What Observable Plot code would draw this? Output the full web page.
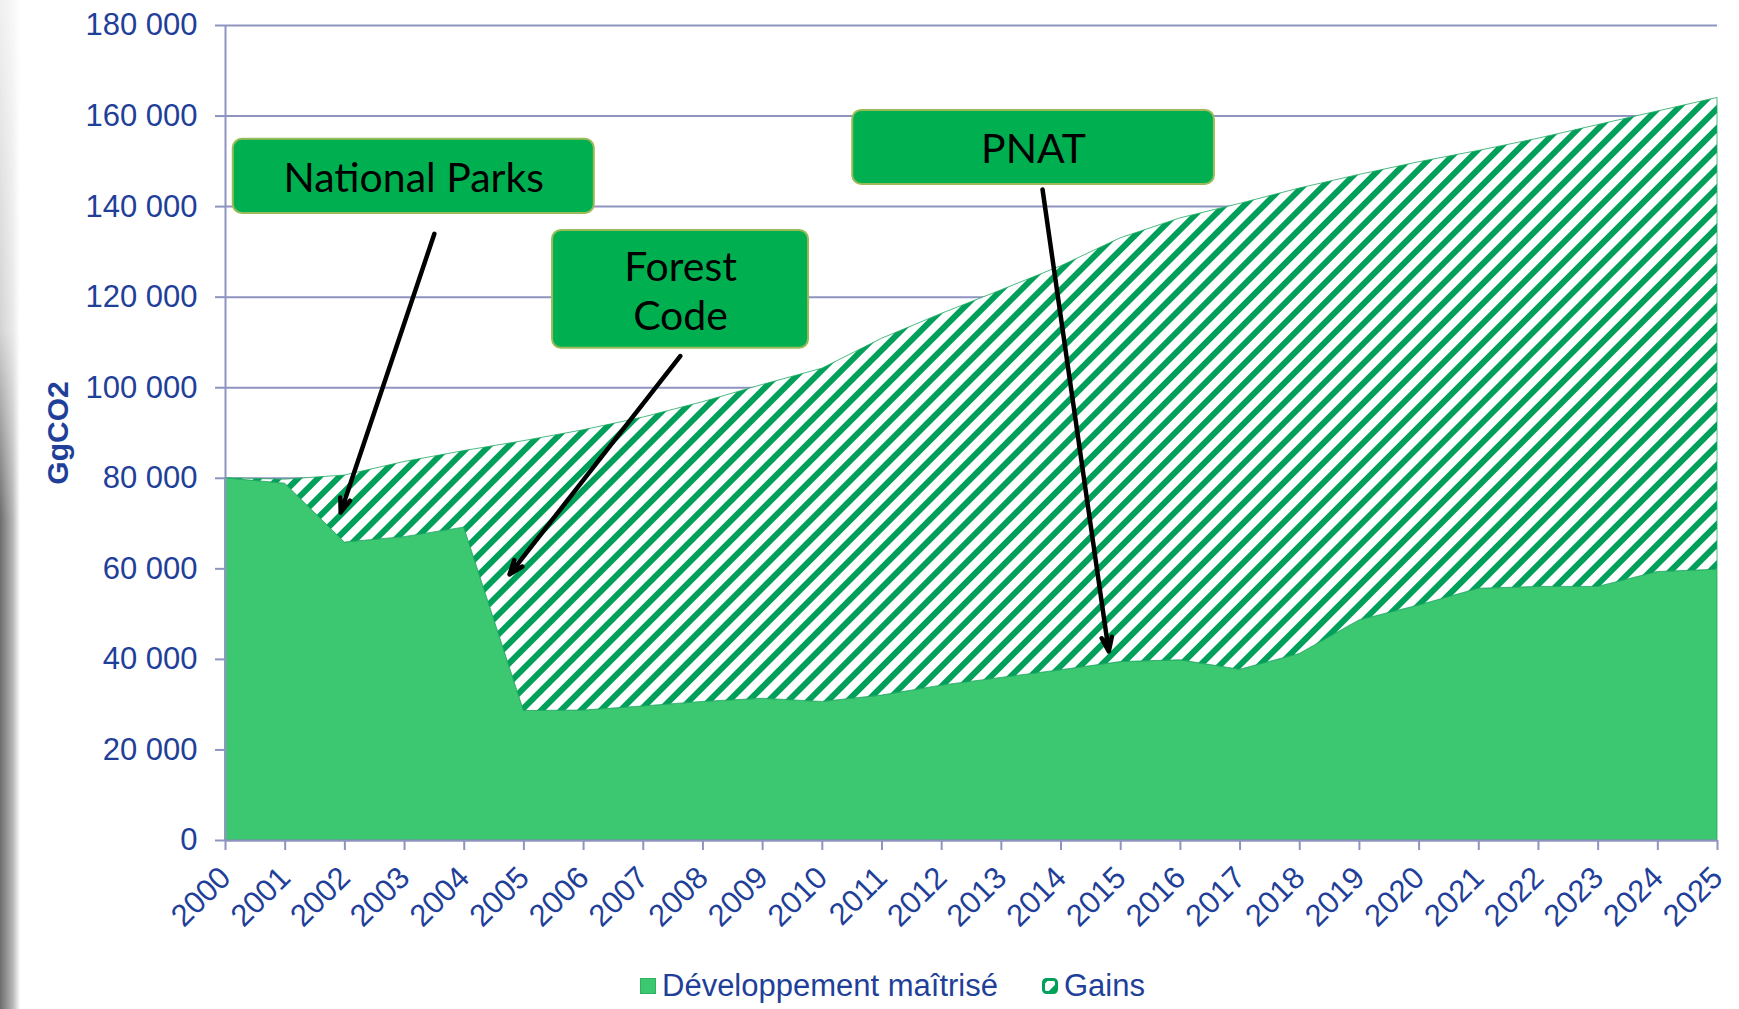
<!DOCTYPE html>
<html>
<head>
<meta charset="utf-8">
<script src="https://cdn.jsdelivr.net/npm/d3@7"></script>
<script src="https://cdn.jsdelivr.net/npm/@observablehq/plot@0.6"></script>
<style>
  html, body { margin: 0; padding: 0; background: #fff; }
  body { width: 1739px; height: 1009px; overflow: hidden; position: relative; font-family: "Liberation Sans", Arial, sans-serif; }
  #strip { position: absolute; left: 0; top: 0; width: 20px; height: 1009px;
    background: linear-gradient(to right, rgba(100,100,100,0.95), rgba(160,160,160,0.75) 65%, rgba(255,255,255,0));
    -webkit-mask-image: linear-gradient(to bottom, rgba(0,0,0,0.1) 0, rgba(0,0,0,0.3) 330px, rgba(0,0,0,1) 520px);
    mask-image: linear-gradient(to bottom, rgba(0,0,0,0.1) 0, rgba(0,0,0,0.3) 330px, rgba(0,0,0,1) 520px); }
  #chart svg { display: block; }
  #legend { position: relative; height: 47px; display: flex; align-items: center; padding-left: 640px; font-size: 31px; color: #1f3f99; }
  .item { display: flex; align-items: center; }
  .item.first { margin-right: 44px; }
  .sw { width: 16px; height: 16px; margin-right: 6px; box-sizing: border-box; flex: none; }
</style>
</head>
<body>
<div id="strip"></div>
<div id="chart"></div>
<div id="legend">
  <div class="item first"><div class="sw" style="background:#3cc870;border:1px solid #2fb060"></div><span>Développement maîtrisé</span></div>
  <div class="item"><svg class="sw" width="16" height="16" viewBox="0 0 16 16"><rect x="1.5" y="1.5" width="13" height="13" rx="3" fill="url(#hatch)" stroke="#00a05a" stroke-width="3"/></svg><span>Gains</span></div>
</div>
<script>
const years = [2000, 2001, 2002, 2003, 2004, 2005, 2006, 2007, 2008, 2009, 2010, 2011, 2012,
  2013, 2014, 2015, 2016, 2017, 2018, 2019, 2020, 2021, 2022, 2023, 2024, 2025];
const developpement = [80000, 78800, 65800, 67000, 69100, 28600, 28700, 29600, 30600, 31300, 30600, 32000, 34200,
  35900, 37600, 39400, 39800, 37700, 41200, 48600, 51900, 55600, 56000, 56000, 59300, 59800];
const gains = [0, 900, 14800, 16600, 16900, 59600, 61900, 63800, 66200, 69300, 73600, 78800, 82100,
  85600, 89200, 93600, 97600, 102900, 102800, 98400, 97900, 96700, 99000, 102000, 101700, 104200];
const seriesNames = ["Développement maîtrisé", "Gains"];
const yTicks = [0, 20000, 40000, 60000, 80000, 100000, 120000, 140000, 160000, 180000];
const yLabel = "GgCO2";

// annotations (data coordinates)
const boxLabels = ["National Parks", "Forest\nCode", "PNAT"];
const boxX1 = [2000.13, 2005.48, 2010.51];
const boxX2 = [2006.18, 2009.77, 2016.57];
const boxY1 = [138500, 108700, 144900];
const boxY2 = [154850, 134750, 161250];
const arrowFromX = [2003.50, 2007.62, 2013.69];
const arrowFromY = [134000, 107000, 143800];
const arrowToX = [2001.93, 2004.76, 2014.80];
const arrowToY = [72450, 58760, 41750];

const rows = [];
seriesNames.forEach((s, k) => {
  const vals = k === 0 ? developpement : gains;
  years.forEach((y, i) => rows.push({year: y, series: s, value: vals[i]}));
});
const boxes = boxLabels.map((label, i) => ({
  label, x1: boxX1[i], x2: boxX2[i], y1: boxY1[i], y2: boxY2[i],
  tx: (boxX1[i] + boxX2[i]) / 2, ty: (boxY1[i] + boxY2[i]) / 2,
  ax1: arrowFromX[i], ay1: arrowFromY[i], ax2: arrowToX[i], ay2: arrowToY[i]
}));

const axisColor = "#8f93c0";
const textColor = "#1f3f99";
const fmt = d => d3.format(",")(d).replace(/,/g, " ");

const chart = Plot.plot({
  width: 1739,
  height: 962,
  marginLeft: 225,
  marginRight: 22,
  marginTop: 25,
  marginBottom: 122,
  style: {fontFamily: "'Liberation Sans', Arial, sans-serif", background: "transparent"},
  x: {domain: [2000, 2025], label: null},
  y: {domain: [0, 180000], label: null},
  color: {domain: seriesNames, range: ["#3cc870", "url(#hatch)"]},
  marks: [
    Plot.gridY(yTicks, {stroke: axisColor, strokeOpacity: 1, strokeWidth: 2}),
    Plot.areaY(rows, Plot.stackY({x: "year", y: "value", z: "series", fill: "series", stroke: "#1fa862", strokeWidth: 0.8})),
    Plot.ruleX([2000], {stroke: axisColor, strokeWidth: 2}),
    Plot.ruleY([0], {stroke: axisColor, strokeWidth: 2}),
    Plot.axisY(yTicks, {tickSize: 10, tickPadding: 18, tickFormat: fmt, fontSize: 31, fill: textColor, stroke: axisColor, strokeWidth: 2, label: null}),
    Plot.axisX(years, {tickSize: 10, tickPadding: 22, tickRotate: -45, tickFormat: d => String(d), fontSize: 31, fill: textColor, stroke: axisColor, strokeWidth: 2, label: null}),
    Plot.text([yLabel], {frameAnchor: "left", textAnchor: "middle", dx: -167, rotate: -90, fontSize: 30, fontWeight: "bold", fill: textColor}),
    Plot.arrow(boxes, {x1: "ax1", y1: "ay1", x2: "ax2", y2: "ay2", stroke: "black", strokeWidth: 4.5, headLength: 5, headAngle: 40}),
    Plot.rect(boxes, {x1: "x1", x2: "x2", y1: "y1", y2: "y2", fill: "#00b050", stroke: "#9bbb59", strokeWidth: 2, rx: 9}),
    Plot.text(boxes, {x: "tx", y: "ty", text: "label", fontSize: 41, lineHeight: 1.2, fill: "black", fontFamily: "Lato, 'Open Sans', sans-serif"})
  ]
});

d3.select(chart).insert("defs", ":first-child").html(`
  <pattern id="hatch" patternUnits="userSpaceOnUse" width="14" height="14" patternTransform="rotate(45)">
    <rect width="14" height="14" fill="#ffffff"/>
    <rect x="0" y="0" width="6" height="14" fill="#00a05a"/>
  </pattern>`);
document.getElementById("chart").appendChild(chart);
</script>
</body>
</html>
